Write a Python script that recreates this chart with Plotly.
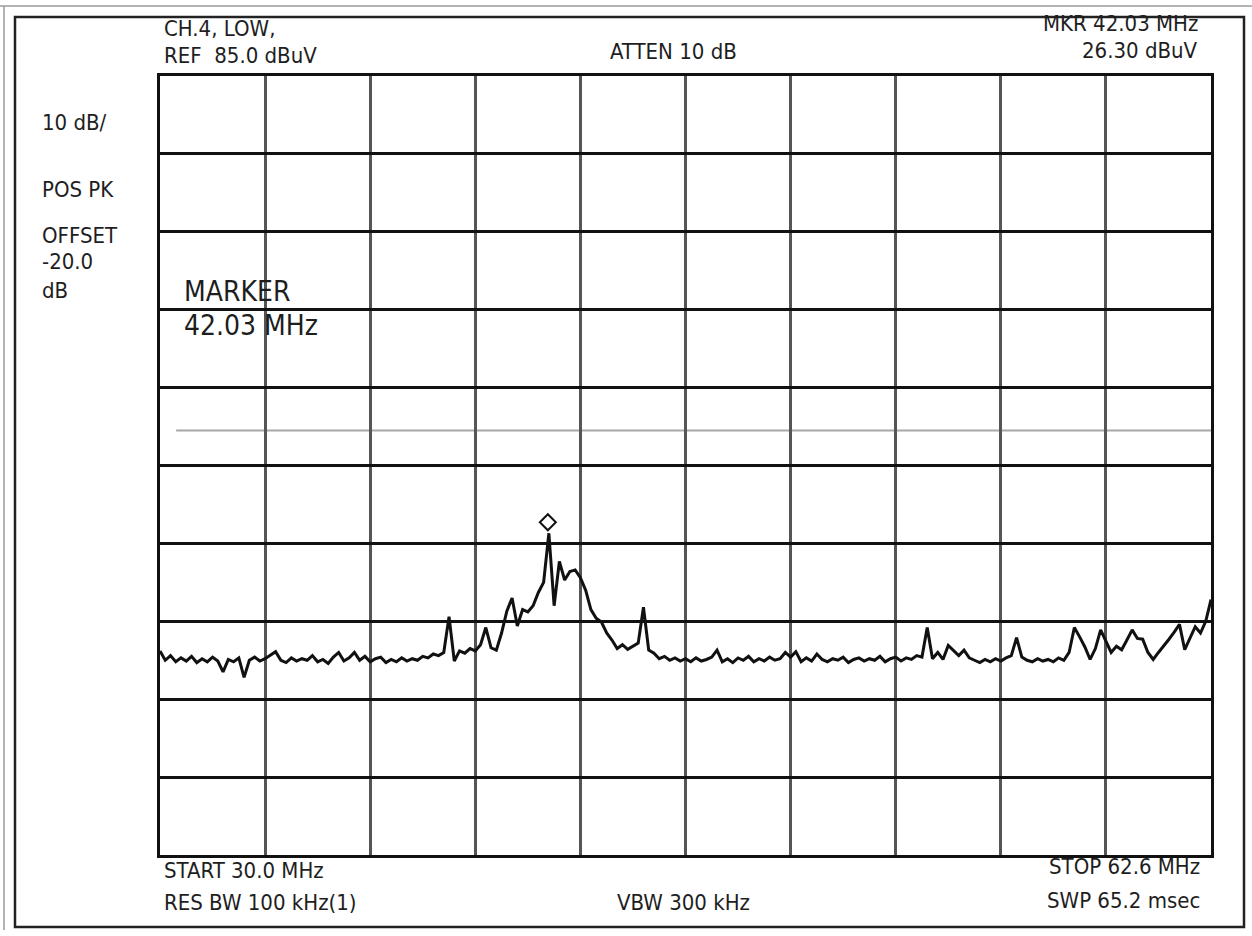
import numpy as np
import plotly.graph_objects as go

# ---- instrument settings (from the screen text) ----
START_MHZ = 30.0
STOP_MHZ = 62.6
REF_LEVEL = 85.0        # dBuV, top of graticule
DB_PER_DIV = 10
N_DIV = 10
MARKER_FREQ = 42.03     # MHz
MARKER_LEVEL = 26.30    # dBuV
ARTIFACT_LEVEL = 39.5   # faint scan line across the graticule

# ---- trace values (dBuV), 201 sweep points ----
trace_dbuv = [
    11.2, 10.0, 10.6, 9.8, 10.3, 9.9, 10.5, 9.7, 10.2, 9.8,
    10.4, 9.9, 8.5, 10.1, 9.8, 10.3, 7.8, 10.0, 10.4, 9.9,
    10.2, 10.6, 11.1, 10.0, 9.7, 10.3, 9.9, 10.2, 10.0, 10.6,
    9.8, 10.1, 9.6, 10.4, 11.0, 9.9, 10.3, 11.0, 10.0, 10.5,
    9.8, 10.2, 10.4, 9.7, 10.1, 9.8, 10.3, 9.9, 10.2, 10.0,
    10.5, 10.3, 10.8, 10.6, 11.0, 15.6, 9.9, 11.2, 10.9, 11.5,
    11.2, 12.0, 14.2, 11.6, 11.3, 13.5, 16.3, 18.0, 14.4, 16.5,
    16.2, 17.0, 18.7, 20.0, 26.3, 17.0, 22.7, 20.3, 21.4, 21.6,
    20.6, 19.0, 16.5, 15.4, 14.9, 13.5, 12.6, 11.5, 12.0, 11.4,
    11.8, 12.2, 16.8, 11.3, 10.9, 10.2, 10.5, 10.0, 10.3, 9.9,
    10.2, 9.8, 10.3, 9.9, 10.1, 10.4, 11.3, 9.8, 10.2, 9.7,
    10.3, 10.0, 10.5, 9.8, 10.2, 9.9, 10.4, 10.0, 10.2, 11.0,
    10.4, 11.1, 9.8, 10.3, 9.9, 10.8, 10.1, 9.8, 10.2, 10.0,
    10.4, 9.7, 10.1, 10.3, 9.9, 10.2, 10.0, 10.5, 9.8, 10.2,
    10.4, 9.9, 10.3, 10.1, 10.6, 10.4, 14.2, 10.2, 11.0, 10.1,
    11.9, 11.2, 10.6, 11.3, 10.3, 10.0, 9.7, 10.1, 9.8, 10.2,
    9.9, 10.3, 10.6, 12.9, 10.4, 10.0, 9.8, 10.2, 9.9, 10.1,
    9.8, 10.3, 10.0, 11.0, 14.2, 13.0, 11.7, 10.1, 11.5, 13.9,
    12.5, 11.0, 11.8, 11.35, 12.6, 13.9, 12.8, 12.7, 11.0, 10.1,
    11.0, 11.8, 12.7, 13.6, 14.6, 11.35, 12.8, 14.3, 13.5, 15.0,
    17.8,
]
assert len(trace_dbuv) == 201
freq_mhz = np.linspace(START_MHZ, STOP_MHZ, len(trace_dbuv))

# ---- screen text ----
left_labels = ["10 dB/", "POS PK", "OFFSET", "-20.0", "dB"]
header_left = ["CH.4, LOW,", "REF  85.0 dBuV"]
header_center = "ATTEN 10 dB"
header_right = ["MKR 42.03 MHz", "26.30 dBuV"]
marker_text = ["MARKER", "42.03 MHz"]
footer_left = ["START 30.0 MHz", "RES BW 100 kHz(1)"]
footer_center = "VBW 300 kHz"
footer_right = ["STOP 62.6 MHz", "SWP 65.2 msec"]

# ---- layout geometry ----
W, H = 1252, 936
ML, MR, MT, MB = 160, 41, 76, 81
PW = W - ML - MR
PH = H - MT - MB

def px(x):
    return (x - ML) / PW

def py(y):
    return (H - MB - y) / PH

FONT = "Liberation Sans Narrow, DejaVu Sans Condensed, Arial Narrow, sans-serif"
TXT = "#1e1e1e"

fig = go.Figure()
fig.add_trace(go.Scatter(
    x=freq_mhz, y=trace_dbuv, mode="lines",
    line=dict(color="#111111", width=3),
    hoverinfo="skip", showlegend=False,
))

annotations = []

def label(text, x, y, anchor="left", size=22):
    annotations.append(dict(
        text=text, x=px(x), y=py(y), xref="paper", yref="paper",
        xanchor=anchor, yanchor="middle", showarrow=False,
        font=dict(family=FONT, size=size, color=TXT),
    ))

label(header_left[0], 162, 28)
label(header_left[1], 162, 55)
label(header_center, 608, 52)
label(header_right[0], 1200, 24, anchor="right")
label(header_right[1], 1200, 51, anchor="right")
for t, yy in zip(left_labels, [123, 189, 235, 261, 290]):
    label(t, 40, yy)
label(marker_text[0], 182, 291, size=28)
label(marker_text[1], 182, 325, size=28)
label(footer_left[0], 162, 870)
label(footer_left[1], 162, 903)
label(footer_center, 683, 903, anchor="center")
label(footer_right[0], 1202, 866, anchor="right")
label(footer_right[1], 1202, 900, anchor="right")

shapes = [
    # outer page frame of the scan
    dict(type="rect", xref="paper", yref="paper",
         x0=px(15), x1=px(1244), y0=py(927), y1=py(17),
         line=dict(color="#222222", width=2.5), layer="below"),
    dict(type="line", xref="paper", yref="paper",
         x0=px(0), x1=px(1252), y0=py(6), y1=py(6),
         line=dict(color="#9a9a9a", width=1.5)),
    dict(type="line", xref="paper", yref="paper",
         x0=px(4), x1=px(4), y0=py(930), y1=py(6),
         line=dict(color="#9a9a9a", width=1.5)),
    # faint scanner line
    dict(type="line", xref="x", yref="y",
         x0=START_MHZ + 0.5, x1=STOP_MHZ, y0=ARTIFACT_LEVEL, y1=ARTIFACT_LEVEL,
         line=dict(color="#a8a8a8", width=2), layer="below"),
    # marker diamond above the peak
    dict(type="path", xref="x", yref="y",
         xsizemode="pixel", ysizemode="pixel",
         xanchor=MARKER_FREQ, yanchor=MARKER_LEVEL,
         path="M 0 3 L 8 11 L 0 19 L -8 11 Z",
         line=dict(color="#111111", width=2), fillcolor="white"),
]

fig.update_layout(
    width=W, height=H,
    margin=dict(l=ML, r=MR, t=MT, b=MB),
    paper_bgcolor="white", plot_bgcolor="white",
    annotations=annotations, shapes=shapes,
    showlegend=False,
)
fig.update_xaxes(
    range=[START_MHZ, STOP_MHZ], tick0=START_MHZ,
    dtick=(STOP_MHZ - START_MHZ) / N_DIV,
    showgrid=True, gridcolor="#555555", gridwidth=2.5,
    showticklabels=False, ticks="", zeroline=False,
    showline=True, mirror=True, linecolor="#111111", linewidth=3,
)
fig.update_yaxes(
    range=[REF_LEVEL - DB_PER_DIV * N_DIV, REF_LEVEL],
    tick0=REF_LEVEL, dtick=DB_PER_DIV,
    showgrid=True, gridcolor="#111111", gridwidth=3,
    showticklabels=False, ticks="", zeroline=False,
    showline=True, mirror=True, linecolor="#111111", linewidth=3,
)

fig.write_html("out.html")
